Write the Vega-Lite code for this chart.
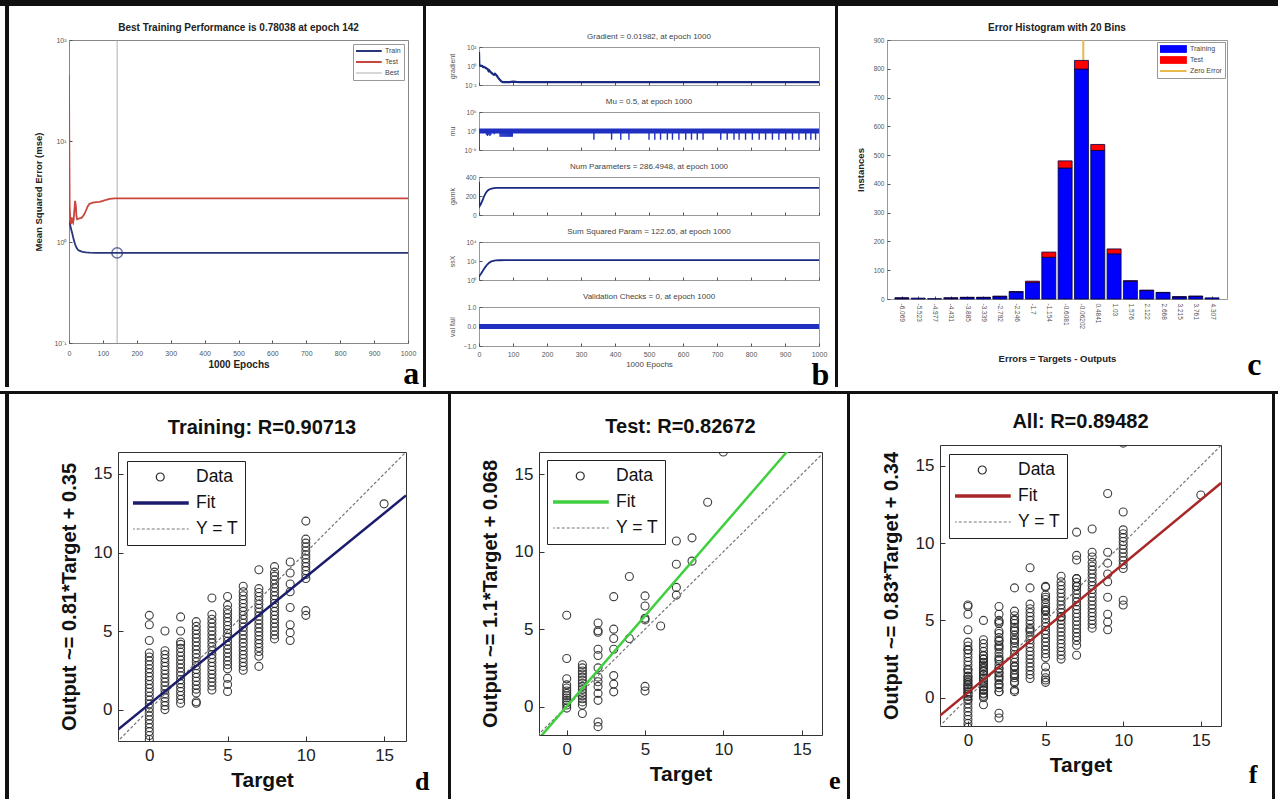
{
"$schema": "https://vega.github.io/schema/vega-lite/v6.json",
"padding": 0,
"background": "white",
"spacing": 0,
"resolve": {"scale": {"color": "independent"}, "legend": {"color": "independent"}},
"config": {
  "font": "Liberation Sans",
  "view": {"stroke": "#777", "strokeWidth": 1},
  "axis": {"grid": false, "domain": false, "labelOverlap": false, "labelFont": "Liberation Sans", "titleFont": "Liberation Sans", "tickColor": "#555", "labelColor": "#333", "titleColor": "#222"},
  "legend": {"labelFont": "Liberation Sans"},
  "title": {"font": "Liberation Sans", "color": "#222"}
},
"datasets": {
  "perf": [
    {"epoch":0,"mse":1.6,"series":"Train"},{"epoch":3,"mse":1.5,"series":"Train"},{"epoch":6,"mse":1.35,"series":"Train"},{"epoch":10,"mse":1.2,"series":"Train"},{"epoch":14,"mse":1.05,"series":"Train"},{"epoch":18,"mse":0.95,"series":"Train"},{"epoch":22,"mse":0.88,"series":"Train"},{"epoch":26,"mse":0.84,"series":"Train"},{"epoch":30,"mse":0.82,"series":"Train"},{"epoch":40,"mse":0.8,"series":"Train"},{"epoch":50,"mse":0.79,"series":"Train"},{"epoch":60,"mse":0.785,"series":"Train"},{"epoch":80,"mse":0.782,"series":"Train"},{"epoch":142,"mse":0.7804,"series":"Train"},{"epoch":1000,"mse":0.78,"series":"Train"},
    {"epoch":0,"mse":45,"series":"Test"},{"epoch":1,"mse":8,"series":"Test"},{"epoch":2,"mse":2.2,"series":"Test"},{"epoch":4,"mse":1.6,"series":"Test"},{"epoch":6,"mse":1.5,"series":"Test"},{"epoch":8,"mse":1.75,"series":"Test"},{"epoch":10,"mse":1.6,"series":"Test"},{"epoch":12,"mse":1.55,"series":"Test"},{"epoch":14,"mse":1.7,"series":"Test"},{"epoch":16,"mse":2.1,"series":"Test"},{"epoch":18,"mse":2.55,"series":"Test"},{"epoch":20,"mse":2.3,"series":"Test"},{"epoch":22,"mse":1.8,"series":"Test"},{"epoch":24,"mse":1.68,"series":"Test"},{"epoch":28,"mse":1.7,"series":"Test"},{"epoch":32,"mse":1.72,"series":"Test"},{"epoch":36,"mse":1.72,"series":"Test"},{"epoch":40,"mse":1.78,"series":"Test"},{"epoch":45,"mse":1.88,"series":"Test"},{"epoch":50,"mse":2.05,"series":"Test"},{"epoch":55,"mse":2.25,"series":"Test"},{"epoch":60,"mse":2.38,"series":"Test"},{"epoch":70,"mse":2.45,"series":"Test"},{"epoch":80,"mse":2.48,"series":"Test"},{"epoch":90,"mse":2.5,"series":"Test"},{"epoch":100,"mse":2.55,"series":"Test"},{"epoch":110,"mse":2.62,"series":"Test"},{"epoch":120,"mse":2.67,"series":"Test"},{"epoch":135,"mse":2.7,"series":"Test"},{"epoch":1000,"mse":2.7,"series":"Test"}
  ],
  "best": [{"epoch":142,"series":"Best"}],
  "bestpt": [{"epoch":142,"mse":0.78038}],
  "grad": [
    {"epoch":0,"v":30},{"epoch":1,"v":1.2},{"epoch":5,"v":1.1},{"epoch":10,"v":1.0},{"epoch":12,"v":0.8},{"epoch":15,"v":0.75},{"epoch":18,"v":0.7},{"epoch":22,"v":0.55},{"epoch":25,"v":0.5},{"epoch":28,"v":0.3},{"epoch":30,"v":0.35},{"epoch":33,"v":0.25},{"epoch":36,"v":0.2},{"epoch":40,"v":0.15},{"epoch":44,"v":0.12},{"epoch":47,"v":0.15},{"epoch":50,"v":0.12},{"epoch":53,"v":0.09},{"epoch":56,"v":0.06},{"epoch":60,"v":0.04},{"epoch":65,"v":0.025},{"epoch":70,"v":0.02},{"epoch":90,"v":0.02},{"epoch":100,"v":0.023},{"epoch":110,"v":0.021},{"epoch":120,"v":0.02},{"epoch":1000,"v":0.01982}
  ],
  "muband": [{"epoch":0,"mu":1},{"epoch":1000,"mu":1}],
  "muspk": [
    {"epoch":0,"hi":1,"lo":0.00002},{"epoch":22,"hi":1,"lo":0.1},{"epoch":25,"hi":1,"lo":0.05},{"epoch":28,"hi":1,"lo":0.1},{"epoch":32,"hi":1,"lo":0.05},{"epoch":35,"hi":1,"lo":0.1},{"epoch":45,"hi":1,"lo":0.15},
    {"epoch":62,"hi":1,"lo":0.03},{"epoch":65,"hi":1,"lo":0.03},{"epoch":68,"hi":1,"lo":0.03},{"epoch":71,"hi":1,"lo":0.03},{"epoch":74,"hi":1,"lo":0.03},{"epoch":77,"hi":1,"lo":0.03},{"epoch":80,"hi":1,"lo":0.03},{"epoch":83,"hi":1,"lo":0.03},{"epoch":86,"hi":1,"lo":0.03},{"epoch":89,"hi":1,"lo":0.03},{"epoch":92,"hi":1,"lo":0.03},{"epoch":95,"hi":1,"lo":0.03},{"epoch":98,"hi":1,"lo":0.03},
    {"epoch":338,"hi":1,"lo":0.005},{"epoch":390,"hi":1,"lo":0.005},{"epoch":417,"hi":1,"lo":0.005},{"epoch":441,"hi":1,"lo":0.005},{"epoch":500,"hi":1,"lo":0.005},{"epoch":517,"hi":1,"lo":0.005},{"epoch":534,"hi":1,"lo":0.005},{"epoch":554,"hi":1,"lo":0.005},{"epoch":569,"hi":1,"lo":0.005},{"epoch":588,"hi":1,"lo":0.005},{"epoch":608,"hi":1,"lo":0.005},{"epoch":625,"hi":1,"lo":0.005},{"epoch":642,"hi":1,"lo":0.005},{"epoch":659,"hi":1,"lo":0.005},{"epoch":711,"hi":1,"lo":0.005},{"epoch":730,"hi":1,"lo":0.005},{"epoch":750,"hi":1,"lo":0.005},{"epoch":765,"hi":1,"lo":0.005},{"epoch":784,"hi":1,"lo":0.005},{"epoch":804,"hi":1,"lo":0.005},{"epoch":824,"hi":1,"lo":0.005},{"epoch":843,"hi":1,"lo":0.005},{"epoch":863,"hi":1,"lo":0.005},{"epoch":882,"hi":1,"lo":0.005},{"epoch":902,"hi":1,"lo":0.005},{"epoch":922,"hi":1,"lo":0.005},{"epoch":941,"hi":1,"lo":0.005},{"epoch":961,"hi":1,"lo":0.005},{"epoch":976,"hi":1,"lo":0.005},{"epoch":990,"hi":1,"lo":0.005}
  ],
  "gamk": [
    {"epoch":0,"v":350},{"epoch":1,"v":90},{"epoch":4,"v":105},{"epoch":8,"v":135},{"epoch":12,"v":170},{"epoch":16,"v":205},{"epoch":20,"v":232},{"epoch":25,"v":255},{"epoch":30,"v":268},{"epoch":35,"v":276},{"epoch":40,"v":281},{"epoch":50,"v":285},{"epoch":60,"v":286},{"epoch":1000,"v":286.49}
  ],
  "ssx": [
    {"epoch":0,"v":2},{"epoch":2,"v":3},{"epoch":5,"v":4},{"epoch":10,"v":8},{"epoch":15,"v":15},{"epoch":20,"v":27},{"epoch":25,"v":45},{"epoch":30,"v":65},{"epoch":35,"v":85},{"epoch":40,"v":100},{"epoch":45,"v":110},{"epoch":50,"v":116},{"epoch":60,"v":120},{"epoch":80,"v":122},{"epoch":1000,"v":122.65}
  ],
  "valf": [{"epoch":0,"v":0},{"epoch":1000,"v":0}],
  "hist": [
    {"bin":-6.069,"series":"Training","n":3},{"bin":-5.523,"series":"Training","n":3},{"bin":-4.977,"series":"Training","n":1},{"bin":-4.431,"series":"Training","n":3},{"bin":-3.885,"series":"Training","n":5},{"bin":-3.339,"series":"Training","n":5},{"bin":-2.792,"series":"Training","n":8},{"bin":-2.246,"series":"Training","n":24},{"bin":-1.7,"series":"Training","n":57},{"bin":-1.154,"series":"Training","n":145},{"bin":-0.6081,"series":"Training","n":455},{"bin":-0.06202,"series":"Training","n":799},{"bin":0.4841,"series":"Training","n":516},{"bin":1.03,"series":"Training","n":157},{"bin":1.576,"series":"Training","n":61},{"bin":2.122,"series":"Training","n":29},{"bin":2.668,"series":"Training","n":22},{"bin":3.215,"series":"Training","n":7},{"bin":3.761,"series":"Training","n":9},{"bin":4.307,"series":"Training","n":4},
    {"bin":-6.069,"series":"Test","n":1},{"bin":-4.431,"series":"Test","n":1},{"bin":-3.885,"series":"Test","n":1},{"bin":-3.339,"series":"Test","n":1},{"bin":-2.792,"series":"Test","n":2},{"bin":-2.246,"series":"Test","n":2},{"bin":-1.7,"series":"Test","n":5},{"bin":-1.154,"series":"Test","n":18},{"bin":-0.6081,"series":"Test","n":25},{"bin":-0.06202,"series":"Test","n":30},{"bin":0.4841,"series":"Test","n":21},{"bin":1.03,"series":"Test","n":17},{"bin":1.576,"series":"Test","n":3},{"bin":2.122,"series":"Test","n":2},{"bin":2.668,"series":"Test","n":1},{"bin":3.215,"series":"Test","n":1},{"bin":3.761,"series":"Test","n":1}
  ],
  "zero": [{"bin":0,"lo":0,"hi":900,"series":"Zero Error"}],
  "train": [
    {"t":0,"o":-1.9},{"t":0,"o":-1.65},{"t":0,"o":-1.4},{"t":0,"o":-1.15},{"t":0,"o":-0.9},{"t":0,"o":-0.65},{"t":0,"o":-0.4},{"t":0,"o":-0.15},{"t":0,"o":0.1},{"t":0,"o":0.35},{"t":0,"o":0.6},{"t":0,"o":0.85},{"t":0,"o":1.1},{"t":0,"o":1.35},{"t":0,"o":1.6},{"t":0,"o":1.85},{"t":0,"o":2.1},{"t":0,"o":2.35},{"t":0,"o":2.6},{"t":0,"o":2.85},{"t":0,"o":3.1},{"t":0,"o":3.35},{"t":0,"o":3.6},{"t":0,"o":4.4},{"t":0,"o":5.4},{"t":0,"o":6.0},
    {"t":1,"o":0.0},{"t":1,"o":0.25},{"t":1,"o":0.5},{"t":1,"o":0.75},{"t":1,"o":1.0},{"t":1,"o":1.25},{"t":1,"o":1.5},{"t":1,"o":1.75},{"t":1,"o":2.0},{"t":1,"o":2.25},{"t":1,"o":2.5},{"t":1,"o":2.75},{"t":1,"o":3.0},{"t":1,"o":3.25},{"t":1,"o":3.5},{"t":1,"o":3.75},{"t":1,"o":5.0},
    {"t":2,"o":0.4},{"t":2,"o":0.65},{"t":2,"o":0.9},{"t":2,"o":1.15},{"t":2,"o":1.4},{"t":2,"o":1.65},{"t":2,"o":1.9},{"t":2,"o":2.15},{"t":2,"o":2.4},{"t":2,"o":2.65},{"t":2,"o":2.9},{"t":2,"o":3.15},{"t":2,"o":3.4},{"t":2,"o":3.65},{"t":2,"o":3.9},{"t":2,"o":4.15},{"t":2,"o":4.3},{"t":2,"o":5.0},{"t":2,"o":5.9},
    {"t":3,"o":0.4},{"t":3,"o":0.5},{"t":3,"o":1.05},{"t":3,"o":1.3},{"t":3,"o":1.55},{"t":3,"o":1.8},{"t":3,"o":2.05},{"t":3,"o":2.3},{"t":3,"o":2.55},{"t":3,"o":2.8},{"t":3,"o":3.05},{"t":3,"o":3.3},{"t":3,"o":3.55},{"t":3,"o":3.8},{"t":3,"o":4.05},{"t":3,"o":4.3},{"t":3,"o":4.55},{"t":3,"o":4.8},{"t":3,"o":5.05},{"t":3,"o":5.3},{"t":3,"o":5.6},
    {"t":4,"o":1.25},{"t":4,"o":1.5},{"t":4,"o":1.75},{"t":4,"o":2.0},{"t":4,"o":2.25},{"t":4,"o":2.5},{"t":4,"o":2.75},{"t":4,"o":3.0},{"t":4,"o":3.25},{"t":4,"o":3.5},{"t":4,"o":3.75},{"t":4,"o":4.0},{"t":4,"o":4.25},{"t":4,"o":4.5},{"t":4,"o":4.75},{"t":4,"o":5.0},{"t":4,"o":5.25},{"t":4,"o":5.5},{"t":4,"o":5.75},{"t":4,"o":6.05},{"t":4,"o":7.1},
    {"t":5,"o":1.15},{"t":5,"o":1.6},{"t":5,"o":2.0},{"t":5,"o":2.6},{"t":5,"o":2.85},{"t":5,"o":3.1},{"t":5,"o":3.35},{"t":5,"o":3.6},{"t":5,"o":3.85},{"t":5,"o":4.1},{"t":5,"o":4.35},{"t":5,"o":4.6},{"t":5,"o":4.85},{"t":5,"o":5.1},{"t":5,"o":5.35},{"t":5,"o":5.6},{"t":5,"o":5.85},{"t":5,"o":6.1},{"t":5,"o":6.35},{"t":5,"o":6.65},{"t":5,"o":7.2},
    {"t":6,"o":2.5},{"t":6,"o":2.75},{"t":6,"o":3.0},{"t":6,"o":3.25},{"t":6,"o":3.5},{"t":6,"o":3.75},{"t":6,"o":4.0},{"t":6,"o":4.25},{"t":6,"o":4.5},{"t":6,"o":4.75},{"t":6,"o":5.0},{"t":6,"o":5.25},{"t":6,"o":5.5},{"t":6,"o":5.75},{"t":6,"o":6.0},{"t":6,"o":6.25},{"t":6,"o":6.5},{"t":6,"o":6.75},{"t":6,"o":7.0},{"t":6,"o":7.25},{"t":6,"o":7.5},{"t":6,"o":7.85},
    {"t":7,"o":2.75},{"t":7,"o":3.4},{"t":7,"o":3.7},{"t":7,"o":3.95},{"t":7,"o":4.2},{"t":7,"o":4.45},{"t":7,"o":4.7},{"t":7,"o":4.95},{"t":7,"o":5.2},{"t":7,"o":5.45},{"t":7,"o":5.7},{"t":7,"o":5.95},{"t":7,"o":6.2},{"t":7,"o":6.45},{"t":7,"o":6.7},{"t":7,"o":6.95},{"t":7,"o":7.2},{"t":7,"o":7.45},{"t":7,"o":7.7},{"t":7,"o":8.9},
    {"t":8,"o":4.5},{"t":8,"o":4.75},{"t":8,"o":5.0},{"t":8,"o":5.25},{"t":8,"o":5.5},{"t":8,"o":5.75},{"t":8,"o":6.0},{"t":8,"o":6.25},{"t":8,"o":6.5},{"t":8,"o":6.75},{"t":8,"o":7.0},{"t":8,"o":7.25},{"t":8,"o":7.5},{"t":8,"o":7.75},{"t":8,"o":8.0},{"t":8,"o":8.25},{"t":8,"o":8.5},{"t":8,"o":8.75},{"t":8,"o":9.1},
    {"t":9,"o":4.4},{"t":9,"o":4.9},{"t":9,"o":5.4},{"t":9,"o":6.5},{"t":9,"o":7.5},{"t":9,"o":8.0},{"t":9,"o":8.7},{"t":9,"o":9.4},
    {"t":10,"o":6.0},{"t":10,"o":6.3},{"t":10,"o":8.35},{"t":10,"o":8.6},{"t":10,"o":8.85},{"t":10,"o":9.1},{"t":10,"o":9.35},{"t":10,"o":9.6},{"t":10,"o":9.85},{"t":10,"o":10.1},{"t":10,"o":10.35},{"t":10,"o":10.6},{"t":10,"o":10.85},{"t":10,"o":12.0},
    {"t":15,"o":13.1}
  ],
  "test": [
    {"t":0,"o":-0.1},{"t":0,"o":0.1},{"t":0,"o":0.25},{"t":0,"o":0.4},{"t":0,"o":0.55},{"t":0,"o":0.7},{"t":0,"o":0.85},{"t":0,"o":1.0},{"t":0,"o":1.2},{"t":0,"o":1.4},{"t":0,"o":1.8},{"t":0,"o":3.1},{"t":0,"o":5.9},
    {"t":1,"o":-0.45},{"t":1,"o":0.1},{"t":1,"o":0.3},{"t":1,"o":0.5},{"t":1,"o":0.7},{"t":1,"o":0.9},{"t":1,"o":1.1},{"t":1,"o":1.3},{"t":1,"o":1.5},{"t":1,"o":1.7},{"t":1,"o":1.9},{"t":1,"o":2.1},{"t":1,"o":2.3},{"t":1,"o":2.5},{"t":1,"o":2.7},
    {"t":2,"o":-1.3},{"t":2,"o":-1.0},{"t":2,"o":0.4},{"t":2,"o":0.85},{"t":2,"o":1.3},{"t":2,"o":1.6},{"t":2,"o":1.9},{"t":2,"o":2.5},{"t":2,"o":3.3},{"t":2,"o":3.7},{"t":2,"o":4.8},{"t":2,"o":4.9},{"t":2,"o":5.4},
    {"t":3,"o":0.95},{"t":3,"o":1.45},{"t":3,"o":2.0},{"t":3,"o":3.7},{"t":3,"o":4.4},{"t":3,"o":5.0},{"t":3,"o":7.1},
    {"t":4,"o":4.4},{"t":4,"o":8.4},
    {"t":5,"o":1.0},{"t":5,"o":1.3},{"t":5,"o":5.6},{"t":5,"o":5.7},{"t":5,"o":6.5},{"t":5,"o":7.15},
    {"t":6,"o":5.2},
    {"t":7,"o":7.2},{"t":7,"o":7.7},{"t":7,"o":9.2},{"t":7,"o":10.7},
    {"t":8,"o":9.4},{"t":8,"o":10.9},
    {"t":9,"o":13.2},
    {"t":10,"o":16.45}
  ],
  "fitd": [{"t":-2,"o":-1.27,"s":"Fit"},{"t":16.4,"o":13.63,"s":"Fit"}],
  "fite": [{"t":-1.8,"o":-2.1,"s":"Fit"},{"t":16.4,"o":19.2,"s":"Fit"}],
  "fitf": [{"t":-1.8,"o":-1.15,"s":"Fit"},{"t":16.3,"o":13.87,"s":"Fit"}],
  "diag": [{"t":-3,"o":-3,"s":"Y = T"},{"t":20,"o":20,"s":"Y = T"}]
},
"vconcat": [
  {"width": 1278, "height": 6, "data": {"values": [{}]}, "mark": {"type": "point", "size": 0, "opacity": 0, "strokeWidth": 0}, "encoding": {}, "view": {"stroke": null, "fill": "#111"}},
  {"hconcat": [
    {"width": 5, "height": 1, "data": {"values": [{}]}, "mark": {"type": "point", "size": 0, "opacity": 0, "strokeWidth": 0}, "encoding": {}, "view": {"stroke": null}},
    {"width": 4, "height": 381, "data": {"values": [{}]}, "mark": {"type": "point", "size": 0, "opacity": 0, "strokeWidth": 0}, "encoding": {}, "view": {"stroke": null, "fill": "#111"}},
    {"width": 23, "height": 1, "data": {"values": [{}]}, "mark": {"type": "point", "size": 0, "opacity": 0, "strokeWidth": 0}, "encoding": {}, "view": {"stroke": null}},
    {"vconcat": [
      {"width": 1, "height": 16, "data": {"values": [{}]}, "mark": {"type": "point", "size": 0, "opacity": 0, "strokeWidth": 0}, "encoding": {}, "view": {"stroke": null}},
      {"width": 339, "height": 303,
       "view": {"stroke": "#888"},
       "title": {"text": "Best Training Performance is 0.78038 at epoch 142", "fontSize": 10, "fontWeight": "bold", "offset": 3},
       "encoding": {
         "x": {"field": "epoch", "type": "quantitative", "scale": {"domain": [0, 1000], "nice": false},
               "axis": {"values": [0,100,200,300,400,500,600,700,800,900,1000], "format": "d", "labelFontSize": 7, "labelColor": "#555", "title": "1000 Epochs", "titleFontSize": 10, "titleFontWeight": "bold", "titlePadding": 3, "tickSize": -3, "labelPadding": 9, "labelFlush": false}}
       },
       "layer": [
        {"data": {"name": "best"}, "mark": {"type": "rule", "strokeWidth": 0.8},
         "encoding": {
          "color": {"field": "series", "type": "nominal", "title": null, "scale": {"domain": ["Train", "Test", "Best"], "range": ["#27357a", "#c9463d", "#9a9a9a"]},
                    "legend": {"orient": "top-right", "offset": 4, "title": null, "symbolType": "stroke", "symbolSize": 700, "symbolStrokeWidth": 2, "clipHeight": 8, "symbolOffset": 9, "labelOffset": 13, "labelFontSize": 7, "labelColor": "#444", "fillColor": "white", "strokeColor": "#999", "padding": 3, "rowPadding": 3,
                               "encode": {"symbols": {"update": {"strokeWidth": {"signal": "datum.value === 'Best' ? 0.8 : 2"}}}}}}
         }},
        {"data": {"name": "perf"}, "mark": {"type": "line", "strokeWidth": 1.8, "clip": true},
         "encoding": {
          "y": {"field": "mse", "type": "quantitative", "scale": {"type": "log", "domain": [0.1, 100], "nice": false},
                "axis": {"values": [0.1, 1, 10, 100], "labelExpr": "'10' + replace(replace(replace(replace(replace(replace(replace('' + round(log(datum.value)/LN10), '-', '⁻'), '0', '⁰'), '1', '¹'), '2', '²'), '3', '³'), '4', '⁴'), '5', '⁵')", "labelFontSize": 7, "labelColor": "#555", "title": "Mean Squared Error  (mse)", "titleFontSize": 9.5, "titleFontWeight": "bold", "titlePadding": 6, "minExtent": 20, "maxExtent": 20, "tickSize": -3, "labelPadding": 6}},
          "color": {"field": "series", "type": "nominal", "title": null, "scale": {"domain": ["Train", "Test", "Best"], "range": ["#27357a", "#c9463d", "#9a9a9a"]},
                    "legend": {"orient": "top-right", "offset": 4, "title": null, "symbolType": "stroke", "symbolSize": 700, "symbolStrokeWidth": 2, "clipHeight": 8, "symbolOffset": 9, "labelOffset": 13, "labelFontSize": 7, "labelColor": "#444", "fillColor": "white", "strokeColor": "#999", "padding": 3, "rowPadding": 3,
                               "encode": {"symbols": {"update": {"strokeWidth": {"signal": "datum.value === 'Best' ? 0.8 : 2"}}}}}}
         }},
        {"data": {"name": "bestpt"}, "mark": {"type": "point", "shape": "circle", "size": 110, "filled": false, "strokeWidth": 1.5, "color": "#27357a"},
         "encoding": {
          "y": {"field": "mse", "type": "quantitative", "scale": {"type": "log", "domain": [0.1, 100], "nice": false},
                "axis": {"values": [0.1, 1, 10, 100], "labelExpr": "'10' + replace(replace(replace(replace(replace(replace(replace('' + round(log(datum.value)/LN10), '-', '⁻'), '0', '⁰'), '1', '¹'), '2', '²'), '3', '³'), '4', '⁴'), '5', '⁵')", "labelFontSize": 7, "labelColor": "#555", "title": "Mean Squared Error  (mse)", "titleFontSize": 9.5, "titleFontWeight": "bold", "titlePadding": 6, "minExtent": 20, "maxExtent": 20, "tickSize": -3, "labelPadding": 6}}
         }}
       ]}
     ],
     "spacing": 0,
     "resolve": {"scale": {"color": "independent"}, "legend": {"color": "independent"}},
     "title": {"text": "a", "orient": "bottom", "anchor": "end", "frame": "bounds", "font": "Liberation Serif", "fontSize": 32, "fontWeight": "bold", "color": "#000", "offset": -11, "dx": 3}},
    {"width": 3, "height": 1, "data": {"values": [{}]}, "mark": {"type": "point", "size": 0, "opacity": 0, "strokeWidth": 0}, "encoding": {}, "view": {"stroke": null}},
    {"width": 3, "height": 381, "data": {"values": [{}]}, "mark": {"type": "point", "size": 0, "opacity": 0, "strokeWidth": 0}, "encoding": {}, "view": {"stroke": null, "fill": "#111"}},
    {"width": 21, "height": 1, "data": {"values": [{}]}, "mark": {"type": "point", "size": 0, "opacity": 0, "strokeWidth": 0}, "encoding": {}, "view": {"stroke": null}},
    {"vconcat": [
      {"width": 1, "height": 26, "data": {"values": [{}]}, "mark": {"type": "point", "size": 0, "opacity": 0, "strokeWidth": 0}, "encoding": {}, "view": {"stroke": null}},
      {"vconcat": [
        {"width": 340, "height": 38, "view": {"stroke": "#999"},
         "title": {"text": "Gradient = 0.01982, at epoch 1000", "fontSize": 8, "fontWeight": "normal", "color": "#444", "offset": 3},
         "data": {"name": "grad"},
         "mark": {"type": "line", "color": "#1a2a80", "strokeWidth": 2.2, "clip": true},
         "encoding": {
          "x": {"field": "epoch", "type": "quantitative", "scale": {"domain": [0, 1000], "nice": false}, "axis": {"values": [0,100,200,300,400,500,600,700,800,900,1000], "labels": false, "title": null, "tickSize": -3}},
          "y": {"field": "v", "type": "quantitative", "scale": {"type": "log", "domain": [0.01, 100], "nice": false},
                "axis": {"values": [0.01, 1, 100], "labelExpr": "'10' + replace(replace(replace(replace(replace(replace(replace('' + round(log(datum.value)/LN10), '-', '⁻'), '0', '⁰'), '1', '¹'), '2', '²'), '3', '³'), '4', '⁴'), '5', '⁵')", "labelFontSize": 6.5, "labelColor": "#555", "title": "gradient", "titleFontSize": 7, "titleFontWeight": "normal", "titleColor": "#555", "minExtent": 18, "maxExtent": 18, "titlePadding": 6, "tickSize": -3, "labelPadding": 6}}
         }},
        {"width": 340, "height": 38, "view": {"stroke": "#999"},
         "title": {"text": "Mu = 0.5, at epoch 1000", "fontSize": 8, "fontWeight": "normal", "color": "#444", "offset": 3},
         "encoding": {
           "x": {"field": "epoch", "type": "quantitative", "scale": {"domain": [0, 1000], "nice": false}, "axis": {"values": [0,100,200,300,400,500,600,700,800,900,1000], "labels": false, "title": null, "tickSize": -3}}
         },
         "layer": [
          {"data": {"name": "muband"}, "mark": {"type": "line", "color": "#1f2fc0", "strokeWidth": 5, "clip": true},
           "encoding": {
            "y": {"field": "mu", "type": "quantitative", "scale": {"type": "log", "domain": [0.00001, 100000], "nice": false},
                  "axis": {"values": [0.00001, 1, 100000], "labelExpr": "'10' + replace(replace(replace(replace(replace(replace(replace('' + round(log(datum.value)/LN10), '-', '⁻'), '0', '⁰'), '1', '¹'), '2', '²'), '3', '³'), '4', '⁴'), '5', '⁵')", "labelFontSize": 6.5, "labelColor": "#555", "title": "mu", "titleFontSize": 7, "titleFontWeight": "normal", "titleColor": "#555", "minExtent": 18, "maxExtent": 18, "titlePadding": 6, "tickSize": -3, "labelPadding": 6}}
           }},
          {"data": {"name": "muspk"}, "mark": {"type": "rule", "color": "#1f2fc0", "strokeWidth": 1.4, "clip": true},
           "encoding": {
            "y": {"field": "hi", "type": "quantitative", "scale": {"type": "log", "domain": [0.00001, 100000], "nice": false},
                  "axis": {"values": [0.00001, 1, 100000], "labelExpr": "'10' + replace(replace(replace(replace(replace(replace(replace('' + round(log(datum.value)/LN10), '-', '⁻'), '0', '⁰'), '1', '¹'), '2', '²'), '3', '³'), '4', '⁴'), '5', '⁵')", "labelFontSize": 6.5, "labelColor": "#555", "title": "mu", "titleFontSize": 7, "titleFontWeight": "normal", "titleColor": "#555", "minExtent": 18, "maxExtent": 18, "titlePadding": 6, "tickSize": -3, "labelPadding": 6}},
            "y2": {"field": "lo"}}}
         ]},
        {"width": 340, "height": 38, "view": {"stroke": "#999"},
         "title": {"text": "Num Parameters = 286.4948, at epoch 1000", "fontSize": 8, "fontWeight": "normal", "color": "#444", "offset": 3},
         "data": {"name": "gamk"},
         "mark": {"type": "line", "color": "#1a2a80", "strokeWidth": 1.8, "clip": true},
         "encoding": {
          "x": {"field": "epoch", "type": "quantitative", "scale": {"domain": [0, 1000], "nice": false}, "axis": {"values": [0,100,200,300,400,500,600,700,800,900,1000], "labels": false, "title": null, "tickSize": -3}},
          "y": {"field": "v", "type": "quantitative", "scale": {"domain": [0, 400], "nice": false},
                "axis": {"values": [0, 200, 400], "labelFontSize": 6.5, "labelColor": "#555", "title": "gamk", "titleFontSize": 7, "titleFontWeight": "normal", "titleColor": "#555", "minExtent": 18, "maxExtent": 18, "titlePadding": 6, "tickSize": -3, "labelPadding": 6}}
         }},
        {"width": 340, "height": 38, "view": {"stroke": "#999"},
         "title": {"text": "Sum Squared Param = 122.65, at epoch 1000", "fontSize": 8, "fontWeight": "normal", "color": "#444", "offset": 3},
         "data": {"name": "ssx"},
         "mark": {"type": "line", "color": "#1a2a80", "strokeWidth": 1.8, "clip": true},
         "encoding": {
          "x": {"field": "epoch", "type": "quantitative", "scale": {"domain": [0, 1000], "nice": false}, "axis": {"values": [0,100,200,300,400,500,600,700,800,900,1000], "labels": false, "title": null, "tickSize": -3}},
          "y": {"field": "v", "type": "quantitative", "scale": {"type": "log", "domain": [1, 10000], "nice": false},
                "axis": {"values": [1, 100, 10000], "labelExpr": "'10' + replace(replace(replace(replace(replace(replace(replace('' + round(log(datum.value)/LN10), '-', '⁻'), '0', '⁰'), '1', '¹'), '2', '²'), '3', '³'), '4', '⁴'), '5', '⁵')", "labelFontSize": 6.5, "labelColor": "#555", "title": "ssX", "titleFontSize": 7, "titleFontWeight": "normal", "titleColor": "#555", "minExtent": 18, "maxExtent": 18, "titlePadding": 6, "tickSize": -3, "labelPadding": 6}}
         }},
        {"width": 340, "height": 39, "view": {"stroke": "#999"},
         "title": {"text": "Validation Checks = 0, at epoch 1000", "fontSize": 8, "fontWeight": "normal", "color": "#444", "offset": 3},
         "data": {"name": "valf"},
         "mark": {"type": "line", "color": "#1f2fc0", "strokeWidth": 5, "clip": true},
         "encoding": {
          "x": {"field": "epoch", "type": "quantitative", "scale": {"domain": [0, 1000], "nice": false},
                "axis": {"values": [0,100,200,300,400,500,600,700,800,900,1000], "format": "d", "labelFontSize": 7, "labelColor": "#555", "title": "1000 Epochs", "titleFontSize": 8, "titleFontWeight": "normal", "titleColor": "#444", "titlePadding": 3, "tickSize": -3, "labelPadding": 7, "labelFlush": false}},
          "y": {"field": "v", "type": "quantitative", "scale": {"domain": [-1, 1], "nice": false},
                "axis": {"values": [-1, 0, 1], "labelFontSize": 6.5, "labelColor": "#555", "title": "val fail", "titleFontSize": 7, "titleFontWeight": "normal", "titleColor": "#555", "minExtent": 18, "maxExtent": 18, "titlePadding": 6, "tickSize": -3, "labelPadding": 6}}
         }}
       ],
       "spacing": 8,
       "resolve": {"scale": {"color": "independent", "y": "independent"}, "legend": {"color": "independent"}}}
     ],
     "spacing": 0,
     "resolve": {"scale": {"color": "independent"}, "legend": {"color": "independent"}},
     "title": {"text": "b", "orient": "bottom", "anchor": "end", "frame": "bounds", "font": "Liberation Serif", "fontSize": 32, "fontWeight": "bold", "color": "#000", "offset": -9, "dx": 2}},
    {"width": 5, "height": 1, "data": {"values": [{}]}, "mark": {"type": "point", "size": 0, "opacity": 0, "strokeWidth": 0}, "encoding": {}, "view": {"stroke": null}},
    {"width": 3, "height": 381, "data": {"values": [{}]}, "mark": {"type": "point", "size": 0, "opacity": 0, "strokeWidth": 0}, "encoding": {}, "view": {"stroke": null, "fill": "#111"}},
    {"width": 16, "height": 1, "data": {"values": [{}]}, "mark": {"type": "point", "size": 0, "opacity": 0, "strokeWidth": 0}, "encoding": {}, "view": {"stroke": null}},
    {"vconcat": [
      {"width": 1, "height": 16, "data": {"values": [{}]}, "mark": {"type": "point", "size": 0, "opacity": 0, "strokeWidth": 0}, "encoding": {}, "view": {"stroke": null}},
      {"width": 340, "height": 259, "view": {"stroke": "#999"},
       "title": {"text": "Error Histogram with 20 Bins", "fontSize": 10, "fontWeight": "bold", "offset": 4},
       "encoding": {
         "x": {"field": "bin", "type": "quantitative", "scale": {"domain": [-6.4, 4.64], "nice": false, "zero": false},
               "axis": {"values": [-6.069,-5.523,-4.977,-4.431,-3.885,-3.339,-2.792,-2.246,-1.7,-1.154,-0.6081,-0.06202,0.4841,1.03,1.576,2.122,2.668,3.215,3.761,4.307], "labelExpr": "'' + datum.value", "labelAngle": 90, "labelAlign": "left", "labelBaseline": "middle", "labelFontSize": 6.5, "labelColor": "#555", "labelPadding": 7, "labelOverlap": false, "labelFlush": false, "labelBound": false, "tickSize": -3, "title": "Errors = Targets - Outputs", "titleFontSize": 9.5, "titleFontWeight": "bold", "titlePadding": 25}}
       },
       "layer": [
        {"data": {"name": "zero"}, "mark": {"type": "rule", "strokeWidth": 2},
         "encoding": {
          "y": {"field": "lo", "type": "quantitative", "scale": {"domain": [0, 900], "nice": false},
                "axis": {"values": [0,100,200,300,400,500,600,700,800,900], "labelFontSize": 6.5, "labelColor": "#555", "title": "Instances", "titleFontSize": 9.5, "titleFontWeight": "bold", "minExtent": 16, "maxExtent": 16, "titlePadding": 6, "tickSize": -3, "labelPadding": 6}},
          "y2": {"field": "hi"},
          "color": {"field": "series", "type": "nominal", "title": null, "scale": {"domain": ["Training", "Test", "Zero Error"], "range": ["#0000ff", "#ff0000", "#e8b84a"]},
                    "legend": {"orient": "top-right", "offset": 2, "title": null, "symbolSize": 729, "clipHeight": 8, "symbolOffset": 9.5, "labelOffset": 13.5, "labelFontSize": 7, "labelColor": "#444", "fillColor": "white", "strokeColor": "#999", "padding": 3, "rowPadding": 3,
                               "encode": {"symbols": {"update": {
                                 "shape": {"signal": "datum.value === 'Zero Error' ? 'stroke' : 'M-1,-0.27H1V0.27H-1Z'"},
                                 "stroke": {"signal": "datum.value === 'Zero Error' ? '#e8b84a' : '#000040'"},
                                 "strokeWidth": {"signal": "datum.value === 'Zero Error' ? 2 : 0.8"},
                                 "fill": {"signal": "datum.value === 'Training' ? '#0000ff' : (datum.value === 'Test' ? '#ff0000' : 'transparent')"},
                                 "fillOpacity": {"value": 1}, "opacity": {"value": 1}}}}}}
         }},
        {"data": {"name": "hist"}, "mark": {"type": "bar", "size": 14, "orient": "vertical", "stroke": "#000040", "strokeWidth": 0.8},
         "encoding": {
          "y": {"field": "n", "type": "quantitative", "stack": "zero", "scale": {"domain": [0, 900], "nice": false},
                "axis": {"values": [0,100,200,300,400,500,600,700,800,900], "labelFontSize": 6.5, "labelColor": "#555", "title": "Instances", "titleFontSize": 9.5, "titleFontWeight": "bold", "minExtent": 16, "maxExtent": 16, "titlePadding": 6, "tickSize": -3, "labelPadding": 6}},
          "color": {"field": "series", "type": "nominal", "title": null, "scale": {"domain": ["Training", "Test", "Zero Error"], "range": ["#0000ff", "#ff0000", "#e8b84a"]},
                    "legend": {"orient": "top-right", "offset": 2, "title": null, "symbolSize": 729, "clipHeight": 8, "symbolOffset": 9.5, "labelOffset": 13.5, "labelFontSize": 7, "labelColor": "#444", "fillColor": "white", "strokeColor": "#999", "padding": 3, "rowPadding": 3,
                               "encode": {"symbols": {"update": {
                                 "shape": {"signal": "datum.value === 'Zero Error' ? 'stroke' : 'M-1,-0.27H1V0.27H-1Z'"},
                                 "stroke": {"signal": "datum.value === 'Zero Error' ? '#e8b84a' : '#000040'"},
                                 "strokeWidth": {"signal": "datum.value === 'Zero Error' ? 2 : 0.8"},
                                 "fill": {"signal": "datum.value === 'Training' ? '#0000ff' : (datum.value === 'Test' ? '#ff0000' : 'transparent')"},
                                 "fillOpacity": {"value": 1}, "opacity": {"value": 1}}}}}},
          "order": {"field": "series", "sort": "descending"}
         }}
       ]}
     ],
     "spacing": 0,
     "resolve": {"scale": {"color": "independent"}, "legend": {"color": "independent"}},
     "title": {"text": "c", "orient": "bottom", "anchor": "end", "frame": "bounds", "font": "Liberation Serif", "fontSize": 32, "fontWeight": "bold", "color": "#000", "offset": -14, "dx": 34}},
    {"width": 19, "height": 1, "data": {"values": [{}]}, "mark": {"type": "point", "size": 0, "opacity": 0, "strokeWidth": 0}, "encoding": {}, "view": {"stroke": null}},
    {"width": 4, "height": 381, "data": {"values": [{}]}, "mark": {"type": "point", "size": 0, "opacity": 0, "strokeWidth": 0}, "encoding": {}, "view": {"stroke": null, "fill": "#111"}}
  ],
  "spacing": 0,
  "resolve": {"scale": {"color": "independent"}, "legend": {"color": "independent"}}},
  {"width": 1278, "height": 3, "data": {"values": [{}]}, "mark": {"type": "point", "size": 0, "opacity": 0, "strokeWidth": 0}, "encoding": {}, "view": {"stroke": null, "fill": "#111"}},
  {"hconcat": [
    {"width": 5, "height": 1, "data": {"values": [{}]}, "mark": {"type": "point", "size": 0, "opacity": 0, "strokeWidth": 0}, "encoding": {}, "view": {"stroke": null}},
    {"width": 4, "height": 406, "data": {"values": [{}]}, "mark": {"type": "point", "size": 0, "opacity": 0, "strokeWidth": 0}, "encoding": {}, "view": {"stroke": null, "fill": "#111"}},
    {"width": 49, "height": 1, "data": {"values": [{}]}, "mark": {"type": "point", "size": 0, "opacity": 0, "strokeWidth": 0}, "encoding": {}, "view": {"stroke": null}},
    {"vconcat": [
      {"width": 1, "height": 23, "data": {"values": [{}]}, "mark": {"type": "point", "size": 0, "opacity": 0, "strokeWidth": 0}, "encoding": {}, "view": {"stroke": null}},
      {"width": 288, "height": 289, "view": {"stroke": "#333"},
       "title": {"text": "Training: R=0.90713", "fontSize": 20, "fontWeight": "bold", "color": "#111", "offset": 14},
       "encoding": {
         "x": {"field": "t", "type": "quantitative", "scale": {"domain": [-2, 16.4], "nice": false, "zero": false},
               "axis": {"values": [0, 5, 10, 15], "labelFontSize": 17, "labelColor": "#222", "title": "Target", "titleFontSize": 21, "titleFontWeight": "bold", "titleColor": "#111", "titlePadding": 6, "tickSize": -5, "labelPadding": 11, "tickColor": "#333"}},
         "y": {"field": "o", "type": "quantitative", "scale": {"domain": [-2, 16.4], "nice": false, "zero": false},
               "axis": {"values": [0, 5, 10, 15], "labelFontSize": 17, "labelColor": "#222", "title": "Output ~= 0.81*Target + 0.35", "titleFontSize": 20, "titleFontWeight": "bold", "titleColor": "#111", "minExtent": 31, "maxExtent": 31, "titlePadding": 8, "tickSize": -5, "labelPadding": 11, "tickColor": "#333"}}
       },
       "layer": [
        {"data": {"name": "train"}, "mark": {"type": "point", "filled": false, "size": 64, "strokeWidth": 1.1, "opacity": 0.9, "clip": true},
         "encoding": {
          "color": {"datum": "Data", "type": "nominal", "title": null, "scale": {"domain": ["Data", "Fit", "Y = T"], "range": ["#2a2a2a", "#1c1c6e", "#777777"]},
                    "legend": {"orient": "top-left", "offset": 9, "title": null, "symbolType": "stroke", "symbolSize": 3249, "clipHeight": 20, "symbolOffset": 18.5, "labelOffset": 27, "labelFontSize": 17.5, "labelColor": "#111", "fillColor": "white", "strokeColor": "#222", "padding": 6, "rowPadding": 6,
                               "encode": {"symbols": {"update": {
                                 "shape": {"signal": "datum.value === 'Data' ? 'circle' : 'stroke'"},
                                 "size": {"signal": "datum.value === 'Data' ? 64 : 3249"},
                                 "strokeDash": {"signal": "datum.value === 'Y = T' ? [3, 2] : []"},
                                 "strokeWidth": {"signal": "datum.value === 'Fit' ? 3.5 : 1.2"},
                                 "fill": {"value": "transparent"},
                                 "stroke": {"signal": "datum.value === 'Fit' ? '#1c1c6e' : (datum.value === 'Data' ? '#333333' : '#777777')"},
                                 "opacity": {"value": 1}}}}}}
         }},
        {"data": {"name": "diag"}, "mark": {"type": "line", "strokeDash": [3, 2], "strokeWidth": 1.2, "clip": true},
         "encoding": {
          "color": {"field": "s", "type": "nominal", "title": null, "scale": {"domain": ["Data", "Fit", "Y = T"], "range": ["#2a2a2a", "#1c1c6e", "#777777"]},
                    "legend": {"orient": "top-left", "offset": 9, "title": null, "symbolType": "stroke", "symbolSize": 3249, "clipHeight": 20, "symbolOffset": 18.5, "labelOffset": 27, "labelFontSize": 17.5, "labelColor": "#111", "fillColor": "white", "strokeColor": "#222", "padding": 6, "rowPadding": 6,
                               "encode": {"symbols": {"update": {
                                 "shape": {"signal": "datum.value === 'Data' ? 'circle' : 'stroke'"},
                                 "size": {"signal": "datum.value === 'Data' ? 64 : 3249"},
                                 "strokeDash": {"signal": "datum.value === 'Y = T' ? [3, 2] : []"},
                                 "strokeWidth": {"signal": "datum.value === 'Fit' ? 3.5 : 1.2"},
                                 "fill": {"value": "transparent"},
                                 "stroke": {"signal": "datum.value === 'Fit' ? '#1c1c6e' : (datum.value === 'Data' ? '#333333' : '#777777')"},
                                 "opacity": {"value": 1}}}}}}
         }},
        {"data": {"name": "fitd"}, "mark": {"type": "line", "strokeWidth": 2.5, "clip": true},
         "encoding": {
          "color": {"field": "s", "type": "nominal", "title": null, "scale": {"domain": ["Data", "Fit", "Y = T"], "range": ["#2a2a2a", "#1c1c6e", "#777777"]},
                    "legend": {"orient": "top-left", "offset": 9, "title": null, "symbolType": "stroke", "symbolSize": 3249, "clipHeight": 20, "symbolOffset": 18.5, "labelOffset": 27, "labelFontSize": 17.5, "labelColor": "#111", "fillColor": "white", "strokeColor": "#222", "padding": 6, "rowPadding": 6,
                               "encode": {"symbols": {"update": {
                                 "shape": {"signal": "datum.value === 'Data' ? 'circle' : 'stroke'"},
                                 "size": {"signal": "datum.value === 'Data' ? 64 : 3249"},
                                 "strokeDash": {"signal": "datum.value === 'Y = T' ? [3, 2] : []"},
                                 "strokeWidth": {"signal": "datum.value === 'Fit' ? 3.5 : 1.2"},
                                 "fill": {"value": "transparent"},
                                 "stroke": {"signal": "datum.value === 'Fit' ? '#1c1c6e' : (datum.value === 'Data' ? '#333333' : '#777777')"},
                                 "opacity": {"value": 1}}}}}}
         }}
       ]}
     ],
     "spacing": 0,
     "resolve": {"scale": {"color": "independent"}, "legend": {"color": "independent"}},
     "title": {"text": "d", "orient": "bottom", "anchor": "end", "frame": "bounds", "font": "Liberation Serif", "fontSize": 26, "fontWeight": "bold", "color": "#000", "offset": -22, "dx": 23}},
    {"width": 18, "height": 1, "data": {"values": [{}]}, "mark": {"type": "point", "size": 0, "opacity": 0, "strokeWidth": 0}, "encoding": {}, "view": {"stroke": null}},
    {"width": 3, "height": 406, "data": {"values": [{}]}, "mark": {"type": "point", "size": 0, "opacity": 0, "strokeWidth": 0}, "encoding": {}, "view": {"stroke": null, "fill": "#111"}},
    {"width": 28, "height": 1, "data": {"values": [{}]}, "mark": {"type": "point", "size": 0, "opacity": 0, "strokeWidth": 0}, "encoding": {}, "view": {"stroke": null}},
    {"vconcat": [
      {"width": 1, "height": 22, "data": {"values": [{}]}, "mark": {"type": "point", "size": 0, "opacity": 0, "strokeWidth": 0}, "encoding": {}, "view": {"stroke": null}},
      {"width": 283, "height": 283, "view": {"stroke": "#333"},
       "title": {"text": "Test: R=0.82672", "fontSize": 20, "fontWeight": "bold", "color": "#111", "offset": 15},
       "encoding": {
         "x": {"field": "t", "type": "quantitative", "scale": {"domain": [-1.77, 16.3], "nice": false, "zero": false},
               "axis": {"values": [0, 5, 10, 15], "labelFontSize": 17, "labelColor": "#222", "title": "Target", "titleFontSize": 21, "titleFontWeight": "bold", "titleColor": "#111", "titlePadding": 6, "tickSize": -5, "labelPadding": 11, "tickColor": "#333"}},
         "y": {"field": "o", "type": "quantitative", "scale": {"domain": [-1.84, 16.45], "nice": false, "zero": false},
               "axis": {"values": [0, 5, 10, 15], "labelFontSize": 17, "labelColor": "#222", "title": "Output ~= 1.1*Target + 0.068", "titleFontSize": 20, "titleFontWeight": "bold", "titleColor": "#111", "minExtent": 31, "maxExtent": 31, "titlePadding": 8, "tickSize": -5, "labelPadding": 11, "tickColor": "#333"}}
       },
       "layer": [
        {"data": {"name": "test"}, "mark": {"type": "point", "filled": false, "size": 64, "strokeWidth": 1.1, "opacity": 0.9, "clip": true},
         "encoding": {
          "color": {"datum": "Data", "type": "nominal", "title": null, "scale": {"domain": ["Data", "Fit", "Y = T"], "range": ["#2a2a2a", "#3fcf3f", "#777777"]},
                    "legend": {"orient": "top-left", "offset": 8, "title": null, "symbolType": "stroke", "symbolSize": 3249, "clipHeight": 20, "symbolOffset": 18.5, "labelOffset": 27, "labelFontSize": 17.5, "labelColor": "#111", "fillColor": "white", "strokeColor": "#222", "padding": 6, "rowPadding": 6,
                               "encode": {"symbols": {"update": {
                                 "shape": {"signal": "datum.value === 'Data' ? 'circle' : 'stroke'"},
                                 "size": {"signal": "datum.value === 'Data' ? 64 : 3249"},
                                 "strokeDash": {"signal": "datum.value === 'Y = T' ? [3, 2] : []"},
                                 "strokeWidth": {"signal": "datum.value === 'Fit' ? 3.5 : 1.2"},
                                 "fill": {"value": "transparent"},
                                 "stroke": {"signal": "datum.value === 'Fit' ? '#3fcf3f' : (datum.value === 'Data' ? '#333333' : '#777777')"},
                                 "opacity": {"value": 1}}}}}}
         }},
        {"data": {"name": "diag"}, "mark": {"type": "line", "strokeDash": [3, 2], "strokeWidth": 1.2, "clip": true},
         "encoding": {
          "color": {"field": "s", "type": "nominal", "title": null, "scale": {"domain": ["Data", "Fit", "Y = T"], "range": ["#2a2a2a", "#3fcf3f", "#777777"]},
                    "legend": {"orient": "top-left", "offset": 8, "title": null, "symbolType": "stroke", "symbolSize": 3249, "clipHeight": 20, "symbolOffset": 18.5, "labelOffset": 27, "labelFontSize": 17.5, "labelColor": "#111", "fillColor": "white", "strokeColor": "#222", "padding": 6, "rowPadding": 6,
                               "encode": {"symbols": {"update": {
                                 "shape": {"signal": "datum.value === 'Data' ? 'circle' : 'stroke'"},
                                 "size": {"signal": "datum.value === 'Data' ? 64 : 3249"},
                                 "strokeDash": {"signal": "datum.value === 'Y = T' ? [3, 2] : []"},
                                 "strokeWidth": {"signal": "datum.value === 'Fit' ? 3.5 : 1.2"},
                                 "fill": {"value": "transparent"},
                                 "stroke": {"signal": "datum.value === 'Fit' ? '#3fcf3f' : (datum.value === 'Data' ? '#333333' : '#777777')"},
                                 "opacity": {"value": 1}}}}}}
         }},
        {"data": {"name": "fite"}, "mark": {"type": "line", "strokeWidth": 2.5, "clip": true},
         "encoding": {
          "color": {"field": "s", "type": "nominal", "title": null, "scale": {"domain": ["Data", "Fit", "Y = T"], "range": ["#2a2a2a", "#3fcf3f", "#777777"]},
                    "legend": {"orient": "top-left", "offset": 8, "title": null, "symbolType": "stroke", "symbolSize": 3249, "clipHeight": 20, "symbolOffset": 18.5, "labelOffset": 27, "labelFontSize": 17.5, "labelColor": "#111", "fillColor": "white", "strokeColor": "#222", "padding": 6, "rowPadding": 6,
                               "encode": {"symbols": {"update": {
                                 "shape": {"signal": "datum.value === 'Data' ? 'circle' : 'stroke'"},
                                 "size": {"signal": "datum.value === 'Data' ? 64 : 3249"},
                                 "strokeDash": {"signal": "datum.value === 'Y = T' ? [3, 2] : []"},
                                 "strokeWidth": {"signal": "datum.value === 'Fit' ? 3.5 : 1.2"},
                                 "fill": {"value": "transparent"},
                                 "stroke": {"signal": "datum.value === 'Fit' ? '#3fcf3f' : (datum.value === 'Data' ? '#333333' : '#777777')"},
                                 "opacity": {"value": 1}}}}}}
         }}
       ]}
     ],
     "spacing": 0,
     "resolve": {"scale": {"color": "independent"}, "legend": {"color": "independent"}},
     "title": {"text": "e", "orient": "bottom", "anchor": "end", "frame": "bounds", "font": "Liberation Serif", "fontSize": 26, "fontWeight": "bold", "color": "#000", "offset": -17, "dx": 18}},
    {"width": 6, "height": 1, "data": {"values": [{}]}, "mark": {"type": "point", "size": 0, "opacity": 0, "strokeWidth": 0}, "encoding": {}, "view": {"stroke": null}},
    {"width": 3, "height": 406, "data": {"values": [{}]}, "mark": {"type": "point", "size": 0, "opacity": 0, "strokeWidth": 0}, "encoding": {}, "view": {"stroke": null, "fill": "#111"}},
    {"width": 30, "height": 1, "data": {"values": [{}]}, "mark": {"type": "point", "size": 0, "opacity": 0, "strokeWidth": 0}, "encoding": {}, "view": {"stroke": null}},
    {"vconcat": [
      {"width": 1, "height": 17, "data": {"values": [{}]}, "mark": {"type": "point", "size": 0, "opacity": 0, "strokeWidth": 0}, "encoding": {}, "view": {"stroke": null}},
      {"width": 281, "height": 281, "view": {"stroke": "#333"},
       "title": {"text": "All: R=0.89482", "fontSize": 20, "fontWeight": "bold", "color": "#111", "offset": 13},
       "encoding": {
         "x": {"field": "t", "type": "quantitative", "scale": {"domain": [-1.8, 16.3], "nice": false, "zero": false},
               "axis": {"values": [0, 5, 10, 15], "labelFontSize": 17, "labelColor": "#222", "title": "Target", "titleFontSize": 21, "titleFontWeight": "bold", "titleColor": "#111", "titlePadding": 6, "tickSize": -5, "labelPadding": 11, "tickColor": "#333"}},
         "y": {"field": "o", "type": "quantitative", "scale": {"domain": [-1.82, 16.33], "nice": false, "zero": false},
               "axis": {"values": [0, 5, 10, 15], "labelFontSize": 17, "labelColor": "#222", "title": "Output ~= 0.83*Target + 0.34", "titleFontSize": 20, "titleFontWeight": "bold", "titleColor": "#111", "minExtent": 31, "maxExtent": 31, "titlePadding": 8, "tickSize": -5, "labelPadding": 11, "tickColor": "#333"}}
       },
       "layer": [
        {"data": {"name": "train"}, "mark": {"type": "point", "filled": false, "size": 64, "strokeWidth": 1.1, "opacity": 0.9, "clip": true},
         "encoding": {
          "color": {"datum": "Data", "type": "nominal", "title": null, "scale": {"domain": ["Data", "Fit", "Y = T"], "range": ["#2a2a2a", "#a82828", "#777777"]},
                    "legend": {"orient": "top-left", "offset": 9, "title": null, "symbolType": "stroke", "symbolSize": 3249, "clipHeight": 20, "symbolOffset": 18.5, "labelOffset": 27, "labelFontSize": 17.5, "labelColor": "#111", "fillColor": "white", "strokeColor": "#222", "padding": 6, "rowPadding": 6,
                               "encode": {"symbols": {"update": {
                                 "shape": {"signal": "datum.value === 'Data' ? 'circle' : 'stroke'"},
                                 "size": {"signal": "datum.value === 'Data' ? 64 : 3249"},
                                 "strokeDash": {"signal": "datum.value === 'Y = T' ? [3, 2] : []"},
                                 "strokeWidth": {"signal": "datum.value === 'Fit' ? 3.5 : 1.2"},
                                 "fill": {"value": "transparent"},
                                 "stroke": {"signal": "datum.value === 'Fit' ? '#a82828' : (datum.value === 'Data' ? '#333333' : '#777777')"},
                                 "opacity": {"value": 1}}}}}}
         }},
        {"data": {"name": "test"}, "mark": {"type": "point", "filled": false, "size": 64, "strokeWidth": 1.1, "opacity": 0.9, "clip": true},
         "encoding": {
          "color": {"datum": "Data", "type": "nominal", "title": null, "scale": {"domain": ["Data", "Fit", "Y = T"], "range": ["#2a2a2a", "#a82828", "#777777"]},
                    "legend": {"orient": "top-left", "offset": 9, "title": null, "symbolType": "stroke", "symbolSize": 3249, "clipHeight": 20, "symbolOffset": 18.5, "labelOffset": 27, "labelFontSize": 17.5, "labelColor": "#111", "fillColor": "white", "strokeColor": "#222", "padding": 6, "rowPadding": 6,
                               "encode": {"symbols": {"update": {
                                 "shape": {"signal": "datum.value === 'Data' ? 'circle' : 'stroke'"},
                                 "size": {"signal": "datum.value === 'Data' ? 64 : 3249"},
                                 "strokeDash": {"signal": "datum.value === 'Y = T' ? [3, 2] : []"},
                                 "strokeWidth": {"signal": "datum.value === 'Fit' ? 3.5 : 1.2"},
                                 "fill": {"value": "transparent"},
                                 "stroke": {"signal": "datum.value === 'Fit' ? '#a82828' : (datum.value === 'Data' ? '#333333' : '#777777')"},
                                 "opacity": {"value": 1}}}}}}
         }},
        {"data": {"name": "diag"}, "mark": {"type": "line", "strokeDash": [3, 2], "strokeWidth": 1.2, "clip": true},
         "encoding": {
          "color": {"field": "s", "type": "nominal", "title": null, "scale": {"domain": ["Data", "Fit", "Y = T"], "range": ["#2a2a2a", "#a82828", "#777777"]},
                    "legend": {"orient": "top-left", "offset": 9, "title": null, "symbolType": "stroke", "symbolSize": 3249, "clipHeight": 20, "symbolOffset": 18.5, "labelOffset": 27, "labelFontSize": 17.5, "labelColor": "#111", "fillColor": "white", "strokeColor": "#222", "padding": 6, "rowPadding": 6,
                               "encode": {"symbols": {"update": {
                                 "shape": {"signal": "datum.value === 'Data' ? 'circle' : 'stroke'"},
                                 "size": {"signal": "datum.value === 'Data' ? 64 : 3249"},
                                 "strokeDash": {"signal": "datum.value === 'Y = T' ? [3, 2] : []"},
                                 "strokeWidth": {"signal": "datum.value === 'Fit' ? 3.5 : 1.2"},
                                 "fill": {"value": "transparent"},
                                 "stroke": {"signal": "datum.value === 'Fit' ? '#a82828' : (datum.value === 'Data' ? '#333333' : '#777777')"},
                                 "opacity": {"value": 1}}}}}}
         }},
        {"data": {"name": "fitf"}, "mark": {"type": "line", "strokeWidth": 2.5, "clip": true},
         "encoding": {
          "color": {"field": "s", "type": "nominal", "title": null, "scale": {"domain": ["Data", "Fit", "Y = T"], "range": ["#2a2a2a", "#a82828", "#777777"]},
                    "legend": {"orient": "top-left", "offset": 9, "title": null, "symbolType": "stroke", "symbolSize": 3249, "clipHeight": 20, "symbolOffset": 18.5, "labelOffset": 27, "labelFontSize": 17.5, "labelColor": "#111", "fillColor": "white", "strokeColor": "#222", "padding": 6, "rowPadding": 6,
                               "encode": {"symbols": {"update": {
                                 "shape": {"signal": "datum.value === 'Data' ? 'circle' : 'stroke'"},
                                 "size": {"signal": "datum.value === 'Data' ? 64 : 3249"},
                                 "strokeDash": {"signal": "datum.value === 'Y = T' ? [3, 2] : []"},
                                 "strokeWidth": {"signal": "datum.value === 'Fit' ? 3.5 : 1.2"},
                                 "fill": {"value": "transparent"},
                                 "stroke": {"signal": "datum.value === 'Fit' ? '#a82828' : (datum.value === 'Data' ? '#333333' : '#777777')"},
                                 "opacity": {"value": 1}}}}}}
         }}
       ]}
     ],
     "spacing": 0,
     "resolve": {"scale": {"color": "independent"}, "legend": {"color": "independent"}},
     "title": {"text": "f", "orient": "bottom", "anchor": "end", "frame": "bounds", "font": "Liberation Serif", "fontSize": 26, "fontWeight": "bold", "color": "#000", "offset": -14, "dx": 36}},
    {"width": 14, "height": 1, "data": {"values": [{}]}, "mark": {"type": "point", "size": 0, "opacity": 0, "strokeWidth": 0}, "encoding": {}, "view": {"stroke": null}},
    {"width": 3, "height": 406, "data": {"values": [{}]}, "mark": {"type": "point", "size": 0, "opacity": 0, "strokeWidth": 0}, "encoding": {}, "view": {"stroke": null, "fill": "#111"}}
  ],
  "spacing": 0,
  "resolve": {"scale": {"color": "independent"}, "legend": {"color": "independent"}}},
  {"width": 1278, "height": 3, "data": {"values": [{}]}, "mark": {"type": "point", "size": 0, "opacity": 0, "strokeWidth": 0}, "encoding": {}, "view": {"stroke": null, "fill": "#111"}}
]
}
